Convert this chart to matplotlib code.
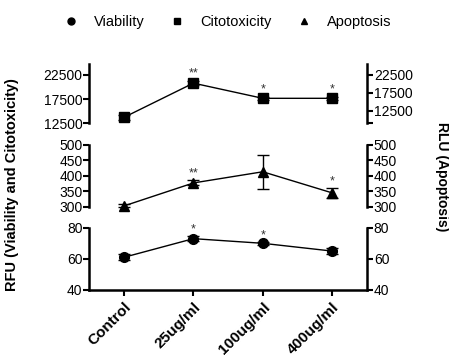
import matplotlib
matplotlib.use("Agg")
import matplotlib.pyplot as plt
from matplotlib.lines import Line2D

plt.rcParams['font.family'] = ['Liberation Sans', 'DejaVu Sans']

groups = ["Control", "25ug/ml", "100ug/ml", "400ug/ml"]

# citotoxicity (top panel)
cito = [13700, 20800, 17650, 17650]
cito_err = [500, 400, 300, 300]
cito_sig = ["", "**", "*", "*"]

# apoptosis (middle panel)
apop = [303, 377, 413, 345]
apop_err = [5, 8, 55, 15]
apop_sig = ["", "**", "", "*"]

# viability (bottom panel)
viab = [61, 73, 70, 65]
viab_err = [2, 1.5, 1, 2]
viab_sig = ["", "*", "*", ""]

x = list(range(len(groups)))

fig = plt.figure(figsize=(4.49, 3.61), dpi=100)
left, width = 0.199, 0.618

def panel(rect, ys, err, sig, marker, ylim, ticks, rticks, rlim, star_off, bottom=False):
    ax = fig.add_axes(rect)
    ax.errorbar(x, ys, yerr=err, color="black", marker=marker, ms=7, lw=1,
                elinewidth=1, capsize=4, clip_on=False, zorder=3)
    for xi, yi, e, s in zip(x, ys, err, sig):
        if s:
            ax.text(xi, yi + e + star_off, s, ha="center", va="bottom", fontsize=9, color="#333333")
    ax.set_xlim(-0.5, 3.5)
    ax.set_ylim(*ylim)
    ax.set_yticks(ticks)
    ax.set_yticklabels([str(t) for t in ticks])
    for sp in ["top"]:
        ax.spines[sp].set_visible(False)
    ax.spines["left"].set_linewidth(1.8)
    ax.spines["right"].set_visible(False)
    ax.tick_params(axis="y", length=4, width=1.5, labelsize=10, pad=1)
    if bottom:
        ax.spines["bottom"].set_linewidth(1.8)
        ax.set_xticks(x)
        ax.set_xticklabels(groups, rotation=45, ha="right", rotation_mode="anchor",
                           fontweight="bold", fontsize=11)
        ax.tick_params(axis="x", length=4, width=1.5, pad=3)
    else:
        ax.spines["bottom"].set_visible(False)
        ax.set_xticks([])
    ax.patch.set_alpha(0)

    rx = ax.twinx()
    rx.set_ylim(*rlim)
    rx.set_yticks(rticks)
    rx.set_yticklabels([str(t) if t in ticks else "" for t in rticks])
    for sp in ["top", "left", "bottom"]:
        rx.spines[sp].set_visible(False)
    rx.spines["right"].set_linewidth(1.8)
    rx.tick_params(axis="y", length=4, width=1.5, labelsize=10, pad=1)
    return ax

panel([left, 0.659, width, 0.164], cito, cito_err, cito_sig, "s",
      (12500, 24800), [12500, 17500, 22500], [9000, 12500, 17500, 22500], (9000, 25600), 300)
panel([left, 0.427, width, 0.172], apop, apop_err, apop_sig, "^",
      (300, 500), [300, 350, 400, 450, 500], [300, 350, 400, 450, 500], (300, 500), 3)
panel([left, 0.197, width, 0.172], viab, viab_err, viab_sig, "o",
      (40, 80), [40, 60, 80], [40, 60, 80], (40, 80), 0.5, bottom=True)

fig.text(0.027, 0.49, "RFU (Viability and Citotoxicity)", rotation=90, ha="center", va="center",
         fontsize=10.5, fontweight="bold")
fig.text(0.985, 0.51, "RLU (Apoptosis)", rotation=270, ha="center", va="center",
         fontsize=10, fontweight="bold")

handles = [Line2D([], [], color="black", marker=m, ls="none", ms=5) for m in ["o", "s", "^"]]
fig.legend(handles, ["Viability", "Citotoxicity", "Apoptosis"], loc="upper center",
           bbox_to_anchor=(0.505, 0.995), ncol=3, frameon=False, fontsize=10.5,
           handletextpad=1.0, columnspacing=1.6, handlelength=1.2)

fig.savefig("out.png", dpi=100)
